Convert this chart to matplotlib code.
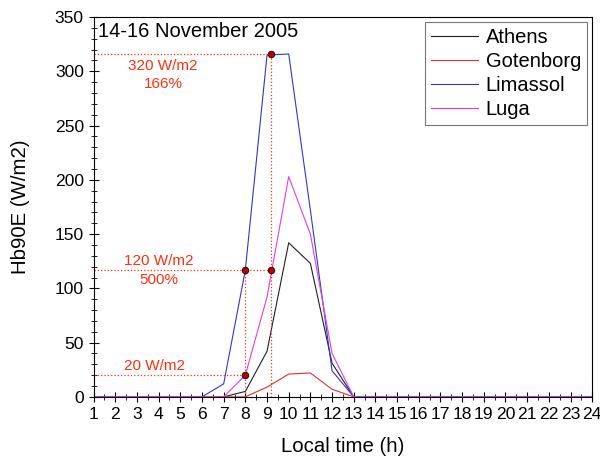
import numpy as np
import matplotlib.pyplot as plt
from matplotlib.ticker import MultipleLocator

plt.rcParams['font.family'] = ['Liberation Sans', 'DejaVu Sans']

hours = list(range(1, 25))
athens = [0, 0, 0, 0, 0, 0, 0, 5, 42, 142, 123, 31, 0] + [0] * 11
gotenborg = [0, 0, 0, 0, 0, 0, 0, 0, 9, 21, 22, 7, 0] + [0] * 11
limassol = [0, 0, 0, 0, 0, 0, 12, 117, 315, 316, 172, 24, 0] + [0] * 11
luga = [0, 0, 0, 0, 0, 0, 0, 20, 92, 203, 150, 40, 0] + [0] * 11

# highlighted points (hour, value)
mark_x = [8, 8, 9.2, 9.2]
mark_y = [20, 117, 117, 316]
notes = [("320 W/m2", 4.2, 305), ("166%", 4.2, 288),
         ("120 W/m2", 4.0, 125), ("500%", 4.0, 108),
         ("20 W/m2", 3.8, 28)]

fig = plt.figure(figsize=(6, 4.62), dpi=100)
ax = fig.add_axes([0.156, 0.141, 0.831, 0.822])

ax.plot(hours, athens, color='#202020', lw=0.8, label='Athens')
ax.plot(hours, gotenborg, color='#e03030', lw=0.8, label='Gotenborg')
ax.plot(hours, limassol, color='#3535c8', lw=0.8, label='Limassol')
ax.plot(hours, luga, color='#e040e0', lw=0.8, label='Luga')

red = '#ff3010'
ax.plot([1, 9.2], [316, 316], ls=':', color=red, lw=0.9)
ax.plot([1, 9.2], [117, 117], ls=':', color=red, lw=0.9)
ax.plot([1, 8], [20, 20], ls=':', color=red, lw=0.9)
ax.plot([8, 8], [0, 117], ls=':', color=red, lw=0.9)
ax.plot([9.2, 9.2], [0, 316], ls=':', color=red, lw=0.9)
ax.scatter(mark_x, mark_y, s=22, color='#c00000', edgecolor='black', lw=0.6, zorder=5)
for txt, x, y in notes:
    ax.text(x, y, txt, color=red, fontsize=11, ha='center', va='center')

ax.text(0.008, 0.988, '14-16 November 2005', transform=ax.transAxes,
        fontsize=14.5, ha='left', va='top')

ax.set_xlim(1, 24)
ax.set_ylim(0, 350)
ax.set_xticks(hours)
ax.xaxis.set_minor_locator(MultipleLocator(0.5))
ax.yaxis.set_major_locator(MultipleLocator(50))
ax.yaxis.set_minor_locator(MultipleLocator(10))
ax.tick_params(which='major', direction='inout', length=7, labelsize=12.6)
ax.tick_params(which='minor', direction='inout', length=4)
ax.set_xlabel('Local time (h)', fontsize=14.7, labelpad=11)
ax.set_ylabel('Hb90E (W/m2)', fontsize=14.7, labelpad=18)

leg = ax.legend(loc='upper right', fontsize=14.5, frameon=True, fancybox=False,
                edgecolor='#555555', handlelength=2.3, borderpad=0.3,
                labelspacing=0.25, handletextpad=0.4, borderaxespad=0,
                bbox_to_anchor=(0.99, 0.987))
leg.get_frame().set_linewidth(0.8)

fig.savefig('out.png', dpi=100)
